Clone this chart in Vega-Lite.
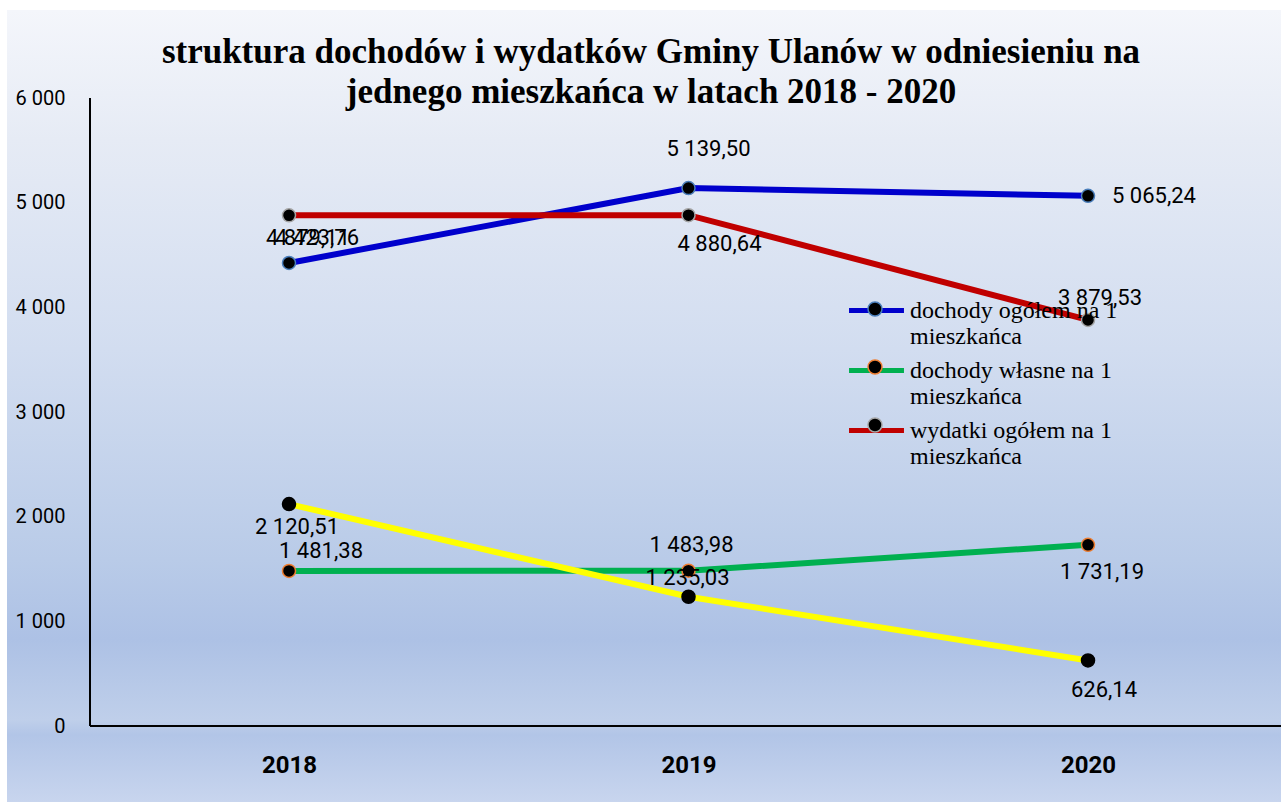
{
  "$schema": "https://vega.github.io/schema/vega-lite/v6.json",
  "width": 1274,
  "height": 792,
  "autosize": "none",
  "padding": {"left": 7, "top": 10, "right": 0, "bottom": 0},
  "background": "white",
  "view": {
    "stroke": null,
    "fill": {
      "gradient": "linear", "x1": 0, "y1": 0, "x2": 0, "y2": 1,
      "stops": [
        {"offset": 0, "color": "#f4f6fb"},
        {"offset": 0.164, "color": "#e6ebf5"},
        {"offset": 0.429, "color": "#d2ddf0"},
        {"offset": 0.694, "color": "#b9cbe8"},
        {"offset": 0.795, "color": "#adc1e5"},
        {"offset": 0.896, "color": "#bfcfea"},
        {"offset": 0.915, "color": "#b2c5e7"},
        {"offset": 1, "color": "#c8d5ee"}
      ]
    }
  },
  "config": {
    "locale": {"number": {"decimal": ",", "thousands": " ", "grouping": [3], "currency": ["", " zł"]}},
    "font": "Roboto"
  },
  "title": {
    "text": ["struktura dochodów i wydatków Gminy Ulanów w odniesieniu na", "jednego mieszkańca w latach 2018 - 2020"],
    "font": "Liberation Serif",
    "fontSize": 35,
    "fontWeight": "bold",
    "color": "black",
    "anchor": "middle",
    "lineHeight": 40,
    "baseline": "alphabetic",
    "offset": -128,
    "dx": 7
  },
  "data": {
    "values": [
      {"year": 2018, "series": "dochody ogółem na 1 mieszkańca", "value": 4423.76},
      {"year": 2019, "series": "dochody ogółem na 1 mieszkańca", "value": 5139.50},
      {"year": 2020, "series": "dochody ogółem na 1 mieszkańca", "value": 5065.24},
      {"year": 2018, "series": "dochody własne na 1 mieszkańca", "value": 1481.38},
      {"year": 2019, "series": "dochody własne na 1 mieszkańca", "value": 1483.98},
      {"year": 2020, "series": "dochody własne na 1 mieszkańca", "value": 1731.19},
      {"year": 2018, "series": "wydatki ogółem na 1 mieszkańca", "value": 4879.11},
      {"year": 2019, "series": "wydatki ogółem na 1 mieszkańca", "value": 4880.64},
      {"year": 2020, "series": "wydatki ogółem na 1 mieszkańca", "value": 3879.53},
      {"year": 2018, "series": "wydatki majątkowe na 1 mieszkańca", "value": 2120.51},
      {"year": 2019, "series": "wydatki majątkowe na 1 mieszkańca", "value": 1235.03},
      {"year": 2020, "series": "wydatki majątkowe na 1 mieszkańca", "value": 626.14}
    ]
  },
  "encoding": {
    "x": {
      "field": "year", "type": "quantitative",
      "scale": {"domain": [2017.2941, 2020.4831], "nice": false, "zero": false},
      "axis": {
        "title": null, "values": [2018, 2019, 2020], "format": "d", "offset": -76,
        "domain": false, "ticks": false, "grid": false, "labelPadding": 27,
        "labelFont": "Roboto", "labelFontSize": 24, "labelFontWeight": "bold", "labelColor": "black"
      }
    },
    "y": {
      "field": "value", "type": "quantitative",
      "scale": {"domain": [-726.1, 6840.8], "nice": false, "zero": false},
      "axis": {
        "title": null, "values": [0, 1000, 2000, 3000, 4000, 5000, 6000], "format": ",d", "offset": -83,
        "domain": false, "ticks": false, "grid": false, "labelPadding": 25,
        "labelFont": "Roboto", "labelFontSize": 20, "labelColor": "black"
      }
    }
  },
  "layer": [
    {
      "data": {"values": [{"tick": 1000}, {"tick": 2000}, {"tick": 3000}, {"tick": 4000}, {"tick": 5000}, {"tick": 6000}]},
      "mark": {"type": "rule", "color": "#d9d9d9", "strokeWidth": 2},
      "encoding": {
        "y": {"field": "tick", "type": "quantitative"},
        "x": {"datum": 2017.502, "type": "quantitative"},
        "x2": {"datum": 2020.6}
      }
    },
    {
      "mark": {"type": "rule", "color": "black", "strokeWidth": 1.5},
      "encoding": {
        "y": {"datum": 0, "type": "quantitative"},
        "x": {"datum": 2017.502, "type": "quantitative"},
        "x2": {"datum": 2020.6}
      }
    },
    {
      "mark": {"type": "rule", "color": "black", "strokeWidth": 1.5},
      "encoding": {
        "x": {"datum": 2017.502, "type": "quantitative"},
        "y": {"datum": 0, "type": "quantitative"},
        "y2": {"datum": 6000}
      }
    },
    {
      "mark": {"type": "line", "strokeWidth": 6},
      "encoding": {
        "color": {
          "field": "series", "type": "nominal",
          "scale": {
            "domain": ["dochody ogółem na 1 mieszkańca", "dochody własne na 1 mieszkańca", "wydatki ogółem na 1 mieszkańca", "wydatki majątkowe na 1 mieszkańca"],
            "range": ["#0000cc", "#00b050", "#c00000", "#ffff00"]
          },
          "legend": {
            "values": ["dochody ogółem na 1 mieszkańca", "dochody własne na 1 mieszkańca", "wydatki ogółem na 1 mieszkańca"],
            "orient": "none", "legendX": 855, "legendY": 286, "title": null, "padding": 0,
            "symbolType": "M-2.29,0L2.29,0", "symbolSize": 576, "symbolStrokeWidth": 5,
            "labelFont": "Liberation Serif", "labelFontSize": 24, "labelColor": "black", "labelLineHeight": 28,
            "labelLimit": 400, "labelOffset": 19, "labelBaseline": "middle",
            "labelExpr": "split(replace(datum.label, ' mieszkańca', '|mieszkańca'), '|')",
            "rowPadding": 7
          }
        }
      }
    },
    {
      "mark": {"type": "point", "filled": true, "fill": "black", "size": 170, "strokeWidth": 1.5, "opacity": 1},
      "encoding": {
        "stroke": {
          "field": "series", "type": "nominal",
          "scale": {
            "domain": ["wydatki majątkowe na 1 mieszkańca", "dochody ogółem na 1 mieszkańca", "dochody własne na 1 mieszkańca", "wydatki ogółem na 1 mieszkańca"],
            "range": ["#000000", "#4a7ebb", "#ed7d31", "#a5a5a5"]
          },
          "legend": {
            "values": ["dochody ogółem na 1 mieszkańca", "dochody własne na 1 mieszkańca", "wydatki ogółem na 1 mieszkańca"],
            "orient": "none", "legendX": 855, "legendY": 286, "title": null, "padding": 0,
            "symbolType": "M-0.5833,0A0.5833,0.5833,0,1,1,0.5833,0A0.5833,0.5833,0,1,1,-0.5833,0Z",
            "symbolSize": 576, "symbolStrokeWidth": 1.5, "symbolFillColor": "black",
            "labelFont": "Liberation Serif", "labelFontSize": 24, "labelColor": "transparent", "labelOpacity": 0, "labelLineHeight": 28,
            "labelLimit": 400, "labelOffset": 19, "labelBaseline": "middle",
            "labelExpr": "split(replace(datum.label, ' mieszkańca', '|mieszkańca'), '|')",
            "rowPadding": 7
          }
        }
      }
    },
    {"transform": [{"filter": "datum.series == 'dochody ogółem na 1 mieszkańca' && datum.year == 2018"}],
     "mark": {"type": "text", "font": "Roboto", "fontSize": 22, "color": "black", "dx": 28, "dy": -25},
     "encoding": {"text": {"field": "value", "type": "quantitative", "format": ",.2f"}}},
    {"transform": [{"filter": "datum.series == 'dochody ogółem na 1 mieszkańca' && datum.year == 2019"}],
     "mark": {"type": "text", "font": "Roboto", "fontSize": 22, "color": "black", "dx": 20, "dy": -39},
     "encoding": {"text": {"field": "value", "type": "quantitative", "format": ",.2f"}}},
    {"transform": [{"filter": "datum.series == 'dochody ogółem na 1 mieszkańca' && datum.year == 2020"}],
     "mark": {"type": "text", "font": "Roboto", "fontSize": 22, "color": "black", "align": "left", "dx": 24, "dy": 0},
     "encoding": {"text": {"field": "value", "type": "quantitative", "format": ",.2f"}}},
    {"transform": [{"filter": "datum.series == 'wydatki ogółem na 1 mieszkańca' && datum.year == 2018"}],
     "mark": {"type": "text", "font": "Roboto", "fontSize": 22, "color": "black", "dx": 19, "dy": 23},
     "encoding": {"text": {"field": "value", "type": "quantitative", "format": ",.2f"}}},
    {"transform": [{"filter": "datum.series == 'wydatki ogółem na 1 mieszkańca' && datum.year == 2019"}],
     "mark": {"type": "text", "font": "Roboto", "fontSize": 22, "color": "black", "dx": 31, "dy": 29},
     "encoding": {"text": {"field": "value", "type": "quantitative", "format": ",.2f"}}},
    {"transform": [{"filter": "datum.series == 'wydatki ogółem na 1 mieszkańca' && datum.year == 2020"}],
     "mark": {"type": "text", "font": "Roboto", "fontSize": 22, "color": "black", "dx": 12, "dy": -22},
     "encoding": {"text": {"field": "value", "type": "quantitative", "format": ",.2f"}}},
    {"transform": [{"filter": "datum.series == 'dochody własne na 1 mieszkańca' && datum.year == 2018"}],
     "mark": {"type": "text", "font": "Roboto", "fontSize": 22, "color": "black", "dx": 32, "dy": -20},
     "encoding": {"text": {"field": "value", "type": "quantitative", "format": ",.2f"}}},
    {"transform": [{"filter": "datum.series == 'dochody własne na 1 mieszkańca' && datum.year == 2019"}],
     "mark": {"type": "text", "font": "Roboto", "fontSize": 22, "color": "black", "dx": 3, "dy": -26},
     "encoding": {"text": {"field": "value", "type": "quantitative", "format": ",.2f"}}},
    {"transform": [{"filter": "datum.series == 'dochody własne na 1 mieszkańca' && datum.year == 2020"}],
     "mark": {"type": "text", "font": "Roboto", "fontSize": 22, "color": "black", "dx": 14, "dy": 27},
     "encoding": {"text": {"field": "value", "type": "quantitative", "format": ",.2f"}}},
    {"transform": [{"filter": "datum.series == 'wydatki majątkowe na 1 mieszkańca' && datum.year == 2018"}],
     "mark": {"type": "text", "font": "Roboto", "fontSize": 22, "color": "black", "dx": 8, "dy": 23},
     "encoding": {"text": {"field": "value", "type": "quantitative", "format": ",.2f"}}},
    {"transform": [{"filter": "datum.series == 'wydatki majątkowe na 1 mieszkańca' && datum.year == 2019"}],
     "mark": {"type": "text", "font": "Roboto", "fontSize": 22, "color": "black", "dx": -1, "dy": -19},
     "encoding": {"text": {"field": "value", "type": "quantitative", "format": ",.2f"}}},
    {"transform": [{"filter": "datum.series == 'wydatki majątkowe na 1 mieszkańca' && datum.year == 2020"}],
     "mark": {"type": "text", "font": "Roboto", "fontSize": 22, "color": "black", "dx": 16, "dy": 30},
     "encoding": {"text": {"field": "value", "type": "quantitative", "format": ",.2f"}}}
  ]
}
